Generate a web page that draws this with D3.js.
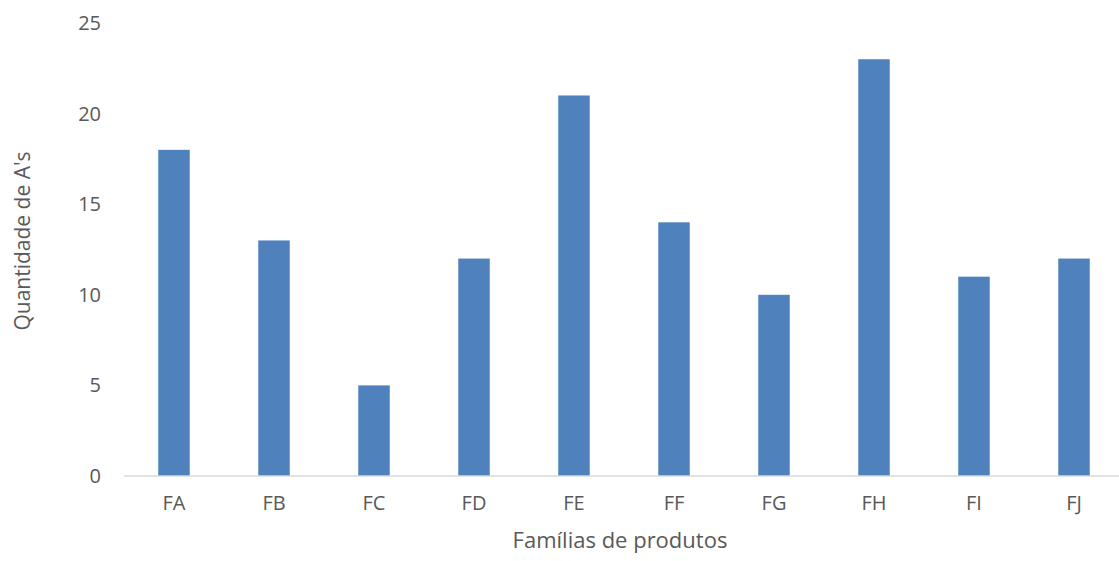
<!DOCTYPE html>
<html>
<head>
<meta charset="utf-8">
<script src="https://cdn.jsdelivr.net/npm/d3@7"></script>
<style>
  html, body { margin: 0; padding: 0; background: #fff; }
  svg text { font-family: "Open Sans", "Liberation Sans", sans-serif; fill: #595959; }
</style>
</head>
<body>
<svg id="chart" width="1119" height="561"></svg>
<script>
// Number of A's per product family
const categories = ["FA", "FB", "FC", "FD", "FE", "FF", "FG", "FH", "FI", "FJ"];
const values = [18, 13, 5, 12, 21, 14, 10, 23, 11, 12];
const yTicks = [0, 5, 10, 15, 20, 25];

const svg = d3.select("#chart");
const plot = { left: 124, right: 1124, top: 23, bottom: 476 };

const x = d3.scaleBand()
  .domain(categories)
  .range([plot.left, plot.right])
  .paddingInner(0.685)
  .paddingOuter(0.3425);

const y = d3.scaleLinear()
  .domain([0, 25])
  .range([plot.bottom, plot.top]);

// Bars
svg.append("g")
  .selectAll("rect")
  .data(categories)
  .join("rect")
  .attr("x", d => x(d))
  .attr("width", x.bandwidth())
  .attr("y", (d, i) => y(values[i]))
  .attr("height", (d, i) => y(0) - y(values[i]))
  .attr("fill", "#4F81BD");

// Y axis labels (no line, no ticks)
const yAxis = svg.append("g")
  .attr("transform", `translate(${plot.left},0)`)
  .call(d3.axisLeft(y).tickValues(yTicks).tickSize(0).tickPadding(23));
yAxis.select(".domain").remove();
yAxis.selectAll("text")
  .attr("font-size", 20)
  .attr("fill", "#595959")
  .style("font-family", '"Open Sans", sans-serif');

// X axis baseline and category labels
svg.append("line")
  .attr("x1", plot.left).attr("x2", 1119)
  .attr("y1", y(0)).attr("y2", y(0))
  .attr("stroke", "#D9D9D9")
  .attr("stroke-width", 1.5);

const xAxis = svg.append("g")
  .attr("transform", `translate(0,${plot.bottom})`)
  .call(d3.axisBottom(x).tickSize(0).tickPadding(20));
xAxis.select(".domain").remove();
xAxis.selectAll("text")
  .attr("font-size", 20)
  .attr("fill", "#595959")
  .style("font-family", '"Open Sans", sans-serif');

// Axis titles
svg.append("text")
  .attr("x", 620)
  .attr("y", 548)
  .attr("text-anchor", "middle")
  .attr("font-size", 22)
  .text("Famílias de produtos");

svg.append("text")
  .attr("transform", "translate(30,241) rotate(-90)")
  .attr("text-anchor", "middle")
  .attr("font-size", 21)
  .text("Quantidade de A's");
</script>
</body>
</html>
